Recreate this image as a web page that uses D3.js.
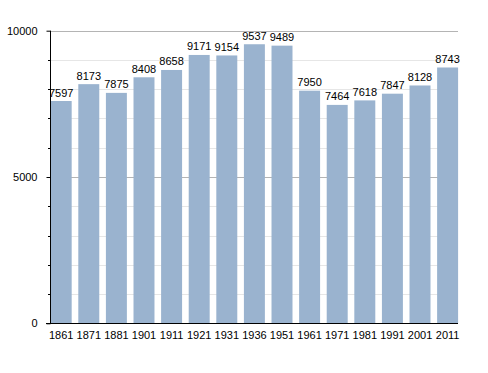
<!DOCTYPE html>
<html><head><meta charset="utf-8">
<script src="https://cdn.jsdelivr.net/npm/d3@7"></script>
<style>body{margin:0;background:#fff}text{font-family:"Liberation Sans",Arial,sans-serif;font-size:11px;fill:#000}</style>
</head><body><svg id="c" width="488" height="373"></svg>
<script>
const years = ["1861","1871","1881","1901","1911","1921","1931","1936","1951","1961","1971","1981","1991","2001","2011"];
const population = [7597,8173,7875,8408,8658,9171,9154,9537,9489,7950,7464,7618,7847,8128,8743];
const yTicks = [0,5000,10000];
const minorTicks = [1000,2000,3000,4000,6000,7000,8000,9000];

const svg = d3.select("#c");
const x = d3.scaleBand().domain(years).range([50.7,458.1]).paddingInner(0.24).paddingOuter(0);
const y = d3.scaleLinear().domain([0,10000]).range([323.3,30.7]);

svg.selectAll(".mg").data(minorTicks).join("line")
  .attr("x1",50).attr("x2",458).attr("y1",d=>Math.round(y(d))+0.5).attr("y2",d=>Math.round(y(d))+0.5)
  .attr("stroke","#e6e6e6").attr("stroke-width",1);
svg.selectAll(".Mg").data([5000,10000]).join("line")
  .attr("x1",50).attr("x2",458).attr("y1",d=>Math.round(y(d))+0.5).attr("y2",d=>Math.round(y(d))+0.5)
  .attr("stroke","#b4b4b4").attr("stroke-width",1);

svg.selectAll(".bar").data(population).join("rect")
  .attr("x",(d,i)=>x(years[i])).attr("width",x.bandwidth())
  .attr("y",d=>y(d)).attr("height",d=>y(0)-y(d))
  .attr("fill","#9ab3cf");

svg.selectAll(".lbl").data(population).join("text")
  .attr("x",(d,i)=>x(years[i])+x.bandwidth()/2).attr("y",d=>y(d)-4.5)
  .attr("text-anchor","middle").text(d=>d);

const yAxis = d3.axisLeft(y).tickValues(yTicks).tickSize(4).tickPadding(9).tickFormat(d3.format("d"));
const ga = svg.append("g").attr("transform","translate(50.5,0)").call(yAxis);
ga.select(".domain").remove();
ga.selectAll("line").attr("stroke","#000");
ga.selectAll("text").style("font-size","11px");
svg.append("line").attr("x1",50.5).attr("x2",50.5).attr("y1",30.7).attr("y2",324).attr("stroke","#000");
svg.selectAll(".mt").data(minorTicks).join("line")
  .attr("x1",48).attr("x2",50.5).attr("y1",d=>Math.round(y(d))+0.5).attr("y2",d=>Math.round(y(d))+0.5)
  .attr("stroke","#000");

const xAxis = d3.axisBottom(x).tickSize(0).tickPadding(8);
const gx = svg.append("g").attr("transform","translate(0,323.5)").call(xAxis);
gx.select(".domain").remove();
svg.append("line").attr("x1",46).attr("x2",458).attr("y1",323.5).attr("y2",323.5).attr("stroke","#000");
</script></body></html>
